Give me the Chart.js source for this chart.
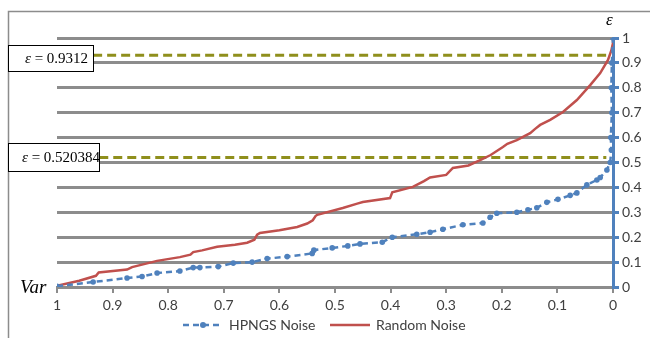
<!DOCTYPE html>
<html>
<head>
<meta charset="utf-8">
<script src="https://cdn.jsdelivr.net/npm/chart.js@4/dist/chart.umd.min.js"></script>
<style>
  html, body { margin: 0; padding: 0; background: #fff; }
  #wrap { width: 650px; height: 338px; position: relative; }
</style>
</head>
<body>
<div id="wrap"><canvas id="chart" width="650" height="338"></canvas></div>
<script>
// Eixo x: Var (invertido 1 -> 0), eixo y: epsilon
const xTicks = [1, 0.9, 0.8, 0.7, 0.6, 0.5, 0.4, 0.3, 0.2, 0.1, 0];
const yTicks = [0, 0.1, 0.2, 0.3, 0.4, 0.5, 0.6, 0.7, 0.8, 0.9, 1];

// Random Noise [var, epsilon]
const randomNoise = [
    [1, 0.005], [0.96, 0.025], [0.93, 0.045], [0.925, 0.058], [0.874, 0.07], [0.865, 0.08],
    [0.82, 0.105], [0.779, 0.12], [0.76, 0.13], [0.755, 0.14], [0.739, 0.147], [0.712, 0.162],
    [0.68, 0.17], [0.658, 0.178], [0.645, 0.19], [0.64, 0.21], [0.635, 0.217], [0.6, 0.228],
    [0.568, 0.241], [0.55, 0.255], [0.54, 0.268], [0.535, 0.285], [0.532, 0.29], [0.486, 0.317],
    [0.46, 0.335], [0.45, 0.341], [0.401, 0.357], [0.397, 0.38], [0.36, 0.402], [0.34, 0.425],
    [0.329, 0.44], [0.3, 0.45], [0.288, 0.478], [0.26, 0.488], [0.239, 0.51], [0.22, 0.53],
    [0.198, 0.562], [0.19, 0.575], [0.173, 0.59], [0.149, 0.618], [0.14, 0.635], [0.131, 0.651],
    [0.113, 0.671], [0.09, 0.703], [0.065, 0.751], [0.041, 0.811], [0.023, 0.859], [0.009, 0.912],
    [0.003, 0.95], [0, 0.98], [0, 1]
];

// HPNGS Noise [var, epsilon]
const hpngsNoise = [
    [1, 0.003], [0.935, 0.02], [0.874, 0.036], [0.847, 0.042], [0.82, 0.056], [0.779, 0.064],
    [0.755, 0.078], [0.743, 0.078], [0.71, 0.082], [0.683, 0.096], [0.649, 0.1], [0.622, 0.114],
    [0.586, 0.122], [0.541, 0.135], [0.538, 0.148], [0.505, 0.157], [0.477, 0.165], [0.455, 0.173],
    [0.415, 0.18], [0.397, 0.2], [0.353, 0.212], [0.329, 0.22], [0.306, 0.232], [0.27, 0.25],
    [0.234, 0.257], [0.221, 0.28], [0.209, 0.296], [0.173, 0.3], [0.153, 0.31], [0.137, 0.318],
    [0.119, 0.34], [0.099, 0.352], [0.077, 0.368], [0.065, 0.378], [0.047, 0.41], [0.029, 0.43],
    [0.023, 0.44], [0.011, 0.47], [0.005, 0.5], [0.003, 0.55], [0.004, 0.6], [0.002, 0.7],
    [0.003, 0.8], [0.002, 0.9], [0, 1]
];

// Limiares marcados
const thresholds = [0.9312, 0.520384];
const thresholdLabels = ['0.9312', '0.520384'];
const thresholdStart = [0.935, 0.924];
const thresholdEnd = 0.012;

const seriesNames = ['HPNGS Noise', 'Random Noise'];
const BLUE = '#4f81bd';
const RED = '#c0504d';
const OLIVE = '#8f8f1c';
const GRID = '#8c8c8c';
const TXT = '#404040';

const toXY = arr => arr.map(p => ({ x: p[0], y: p[1] }));

const thresholdSets = thresholds.map((t, i) => ({
    label: 'eps' + i,
    data: [{ x: thresholdStart[i], y: t }, { x: thresholdEnd, y: t }],
    borderColor: OLIVE,
    borderWidth: 3,
    borderDash: [9, 5],
    pointRadius: 0,
    order: 3
}));

// Caixas, legenda e rótulos desenhados por cima
const extras = {
    id: 'extras',
    afterDraw(chart) {
        const ctx = chart.ctx;
        ctx.save();
        // moldura externa
        ctx.strokeStyle = '#8c8c8c';
        ctx.lineWidth = 1.5;
        ctx.beginPath();
        ctx.moveTo(8.5, 338);
        ctx.lineTo(8.5, 11.5);
        ctx.lineTo(650, 11.5);
        ctx.stroke();

        // caixas de epsilon
        const boxes = [[8, 45, 85, 26], [8, 143, 91, 28]];
        thresholds.forEach((t, i) => {
            const b = boxes[i];
            ctx.fillStyle = '#fff';
            ctx.fillRect(b[0], b[1], b[2], b[3]);
            ctx.strokeStyle = '#000';
            ctx.lineWidth = 1;
            ctx.strokeRect(b[0] + 0.5, b[1] + 0.5, b[2], b[3]);
            const cy = b[1] + b[3] / 2 + 1;
            ctx.fillStyle = '#000';
            ctx.textBaseline = 'middle';
            ctx.textAlign = 'left';
            ctx.font = 'italic 15px "Liberation Serif"';
            let x = b[0] + (i === 0 ? 17 : 14);
            ctx.fillText('ε', x, cy);
            x += ctx.measureText('ε').width;
            ctx.font = '15px "Liberation Serif"';
            ctx.fillText(' = ' + thresholdLabels[i], x, cy);
        });

        // rótulos dos eixos
        ctx.fillStyle = '#000';
        ctx.font = 'italic 19px "Liberation Serif"';
        ctx.textAlign = 'left';
        ctx.textBaseline = 'alphabetic';
        ctx.fillText('Var', 20, 293);
        ctx.font = 'italic 17px "Liberation Serif"';
        ctx.fillText('ε', 606, 25);

        // legenda
        const ly = 325;
        ctx.lineWidth = 2.5;
        ctx.strokeStyle = BLUE;
        ctx.setLineDash([6, 4]);
        ctx.beginPath();
        ctx.moveTo(183, ly);
        ctx.lineTo(222, ly);
        ctx.stroke();
        ctx.setLineDash([]);
        ctx.fillStyle = BLUE;
        ctx.beginPath();
        ctx.arc(203, ly, 3, 0, Math.PI * 2);
        ctx.fill();
        ctx.strokeStyle = RED;
        ctx.beginPath();
        ctx.moveTo(330, ly);
        ctx.lineTo(370, ly);
        ctx.stroke();
        ctx.fillStyle = TXT;
        ctx.font = '14px Lato';
        ctx.textBaseline = 'middle';
        ctx.fillText(seriesNames[0], 229, ly);
        ctx.fillText(seriesNames[1], 376, ly);
        ctx.restore();
    }
};

new Chart(document.getElementById('chart'), {
    type: 'line',
    data: {
        datasets: [
            {
                label: seriesNames[0],
                data: toXY(hpngsNoise),
                borderColor: BLUE,
                backgroundColor: BLUE,
                borderWidth: 2.5,
                borderDash: [6, 4],
                pointRadius: 2.8,
                pointBorderWidth: 0,
                order: 1
            },
            {
                label: seriesNames[1],
                data: toXY(randomNoise),
                borderColor: RED,
                borderWidth: 2.5,
                pointRadius: 0,
                order: 2
            },
            ...thresholdSets
        ]
    },
    options: {
        responsive: false,
        animation: false,
        layout: { padding: { left: 57, top: 38, right: 0, bottom: 0 } },
        plugins: { legend: { display: false }, tooltip: { enabled: false } },
        elements: { line: { tension: 0 } },
        scales: {
            x: {
                type: 'linear',
                min: 0,
                max: 1,
                reverse: true,
                afterBuildTicks: s => { s.ticks = xTicks.map(v => ({ value: v })); },
                afterFit: s => { s.height = 51; },
                ticks: {
                    color: TXT,
                    font: { family: 'Lato', size: 14 },
                    padding: 4,
                    maxRotation: 0,
                    callback: v => String(+v.toFixed(1))
                },
                grid: { drawOnChartArea: false, tickLength: 6, tickColor: GRID, lineWidth: 2 },
                border: { color: GRID, width: 2 }
            },
            y: {
                type: 'linear',
                position: 'right',
                min: 0,
                max: 1,
                afterBuildTicks: s => { s.ticks = yTicks.map(v => ({ value: v })); },
                afterFit: s => { s.width = 37; },
                ticks: {
                    color: TXT,
                    font: { family: 'Lato', size: 14 },
                    padding: 3,
                    callback: v => String(+v.toFixed(1))
                },
                grid: { color: GRID, lineWidth: 3, tickLength: 6, tickColor: BLUE },
                border: { color: BLUE, width: 3 }
            }
        }
    },
    plugins: [extras]
});
</script>
</body>
</html>
